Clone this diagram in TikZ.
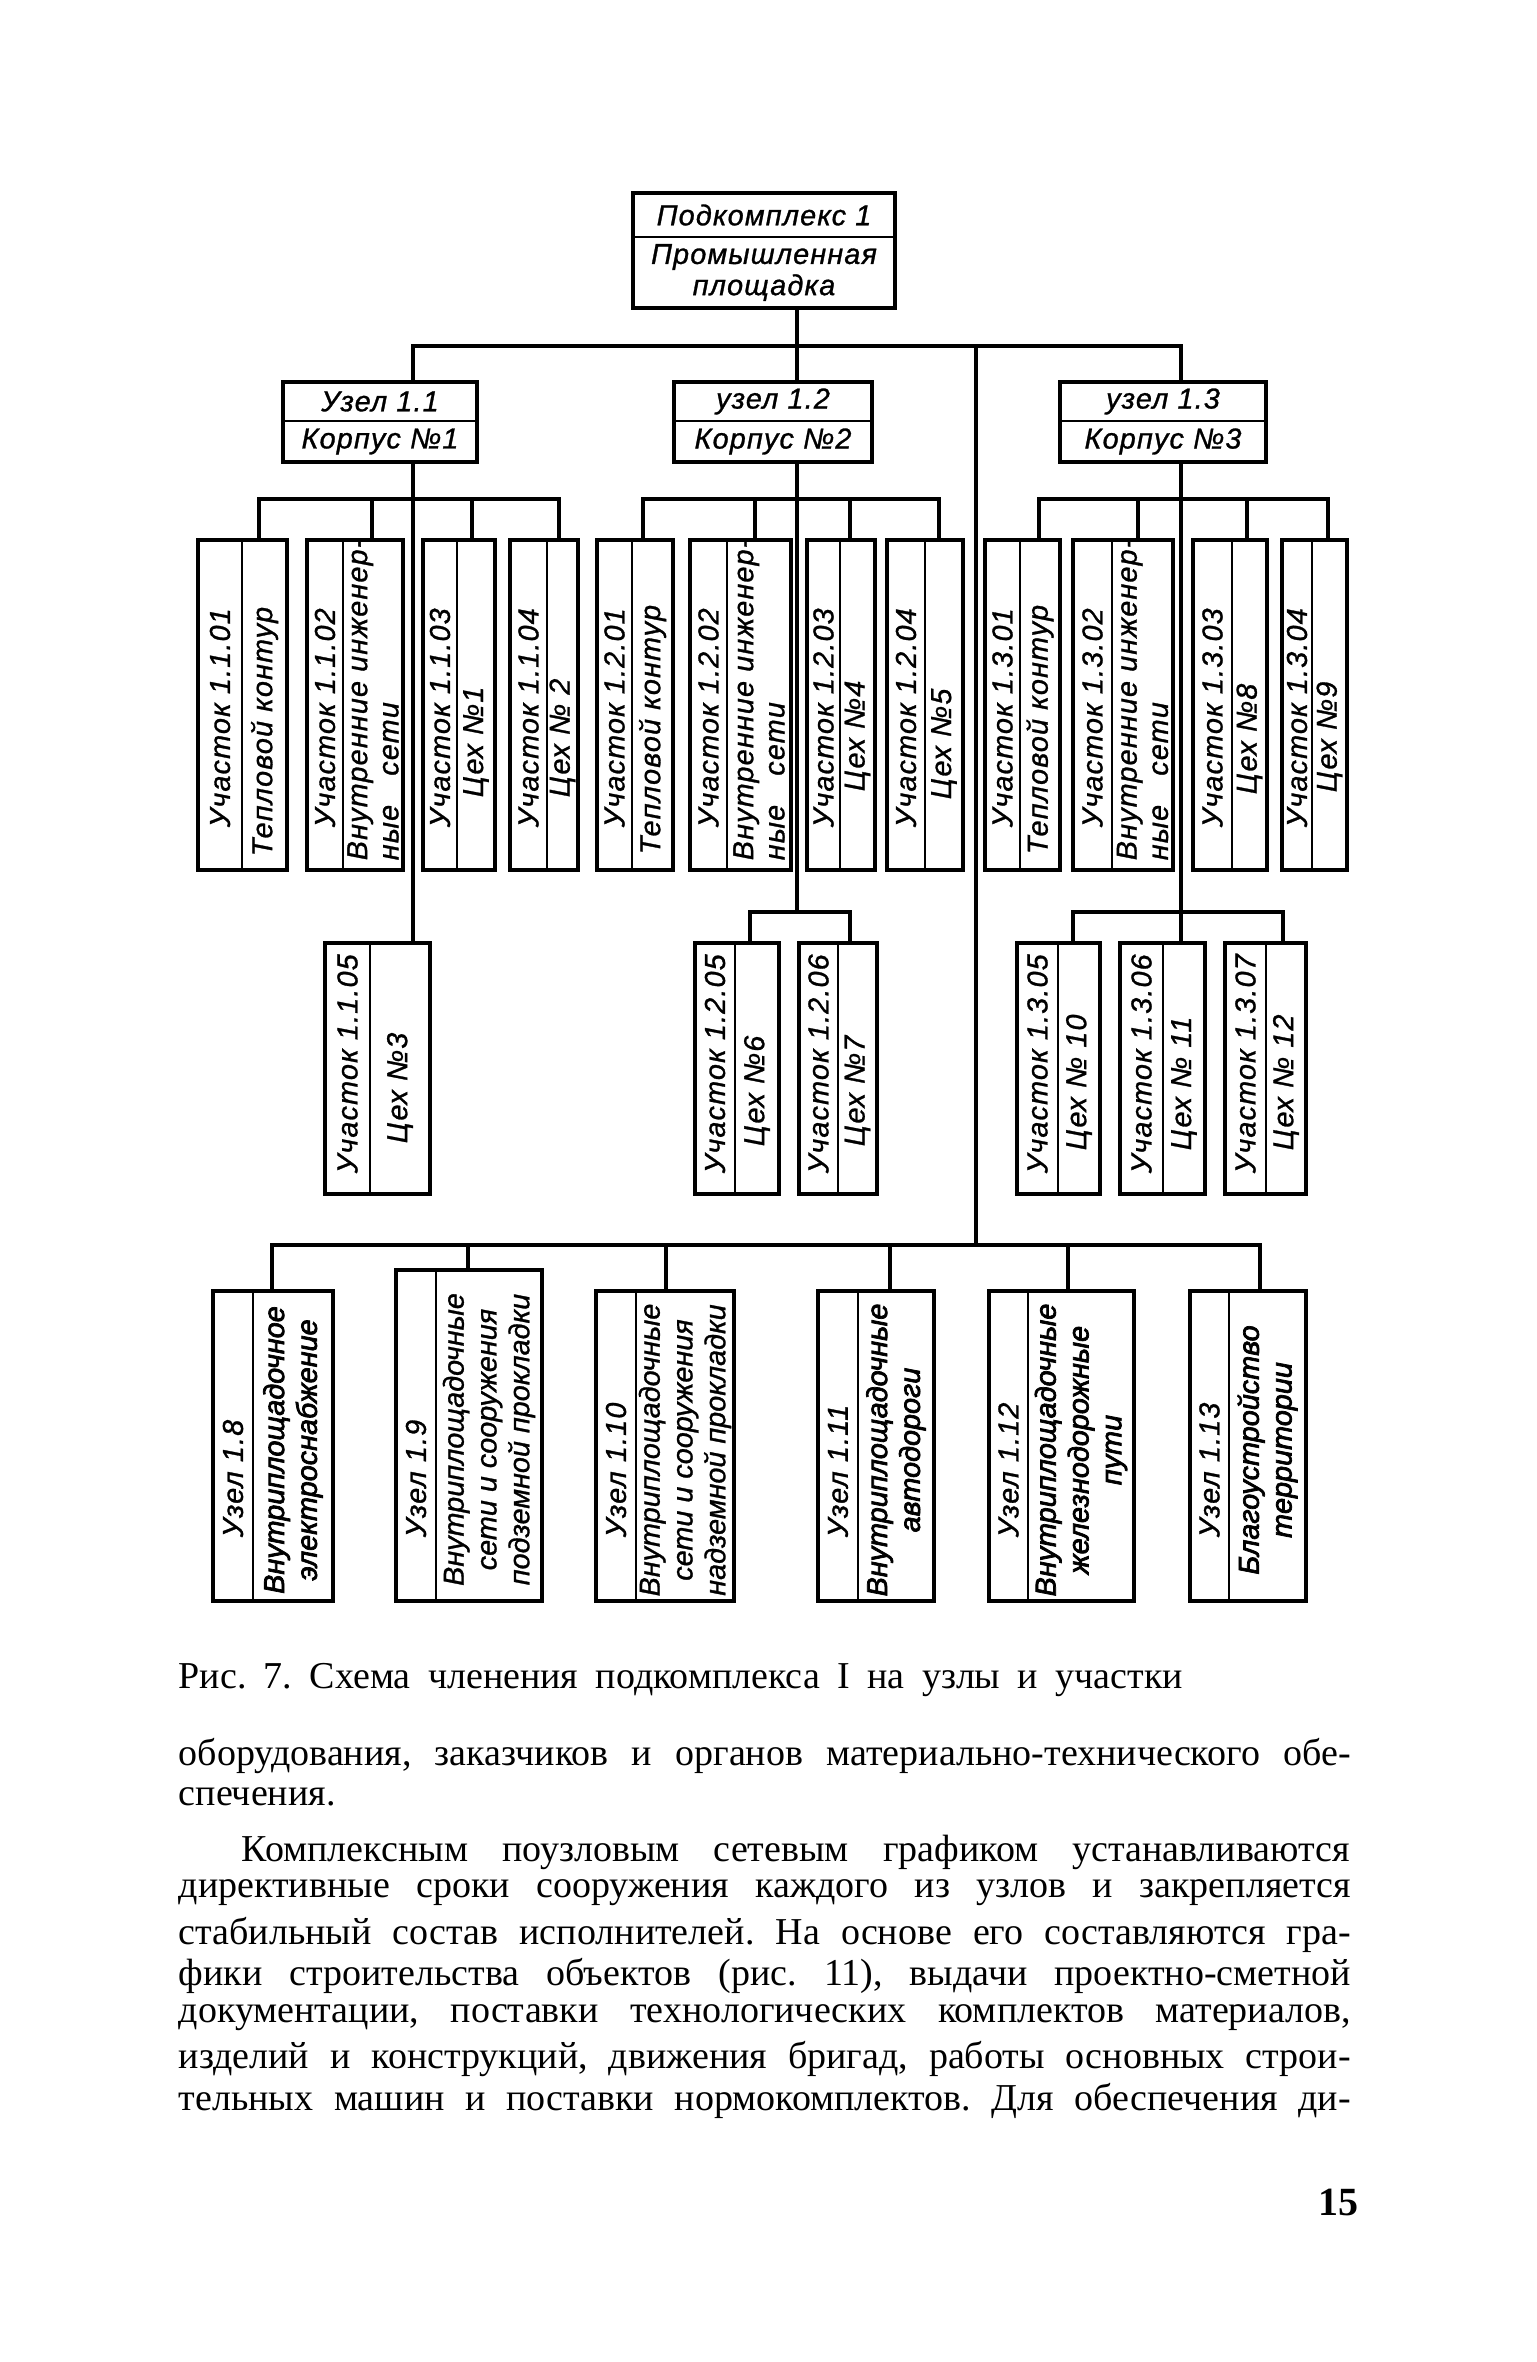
\documentclass[tikz,border=0pt]{standalone}
\usepackage{fontspec}
\setmainfont{Liberation Serif}
\newfontfamily\draftfont[LetterSpace=4, FakeBold=1]{Liberation Sans}
\newfontfamily\draftfontn[FakeBold=1]{Liberation Sans}
\newfontfamily\draftfonth[FakeBold=2.5]{Liberation Sans}
\usetikzlibrary{fit,calc}
\newcommand{\dfont}{\draftfont\itshape\fontsize{7.2}{7.8}\selectfont}
\newcommand{\nfont}{\draftfontn\itshape\fontsize{7.2}{8.2}\selectfont}
\newcommand{\heavy}{\draftfonth\itshape}
% box with two vertical columns: name, x1, xd, x2, drop x, left, right, right pad
\newcommand{\pairbox}[8]{%
  \node[box, fit={(#2,\ytop) (#4,\ybot)}] (#1) {};
  \draw[sep] (#3,\ytop) -- (#3,\ybot);
  \coordinate (#1-in) at (#5,\ytop);
  \node[vtxt] (#1-a) at ({(#2+#3)/2},\ybot-\lpad) {#6};
  \node[vtxt] (#1-b) at ({(#3+#4)/2},\ybot-#8) {#7};
}
% box with two rows: name, x1, x2, y1, yd, y2, upper, lower
\newcommand{\uzel}[8]{%
  \node[box, fit={(#2,#4) (#3,#6)}] (#1) {};
  \draw[sep] (#2,#5) -- (#3,#5);
  \node[htxt] (#1-a) at ({(#2+#3)/2},{(#4+#5)/2}) {#7};
  \node[htxt] (#1-b) at ({(#2+#3)/2},{(#5+#6)/2}) {#8};
}
% bottom row box: name, x1, xd, x2, y1, drop x, left, right
\newcommand{\lowbox}[8]{%
  \node[box, fit={(#2,#5) (#4,\ybot)}] (#1) {};
  \draw[sep] (#3,#5) -- (#3,\ybot);
  \coordinate (#1-in) at (#6,#5);
  \node[vtxt] (#1-a) at ({(#2+#3)/2},\ybot-63) {#7};
  \node[vmid] (#1-b) at ({(#3+#4)/2},{(#5+\ybot)/2+4}) {#8};
}

\begin{document}
\frenchspacing
\begin{tikzpicture}[
  x=0.25pt, y=-0.25pt,
  box/.style={draw, line width=1pt, inner sep=0pt},
  sep/.style={line width=0.7pt},
  wire/.style={line width=0.8pt},
  vtxt/.style={font=\dfont, rotate=90, anchor=west, inner sep=0pt, align=left},
  vmid/.style={font=\nfont, rotate=90, inner sep=0pt, align=center},
  htxt/.style={font=\dfont, inner sep=0pt, align=center},
  body/.style={anchor=west, inner sep=0pt, font=\fontsize{9.5}{11}\selectfont},
]
\fill[white] (0,0) rectangle (1536,2362);
\useasboundingbox (0,0) rectangle (1536,2362);

% stems, spine and buses
\coordinate (k1) at (797,0);
\coordinate (k11) at (413,0);
\coordinate (k13) at (1181,0);
\coordinate (spine) at (976,0);
\coordinate (bus1) at (0,346);
\coordinate (bus2) at (0,499);
\coordinate (bus4) at (0,912);
\coordinate (bus5) at (0,1245);

\uzel{top}{633}{895}{193}{237}{308}{Подкомплекс 1}{Промышленная\\площадка}
\uzel{u11}{283}{477}{382}{421}{462}{Узел 1.1}{Корпус №1}
\uzel{u12}{674}{872}{382}{421}{462}{узел 1.2}{Корпус №2}
\uzel{u13}{1060}{1266}{382}{421}{462}{узел 1.3}{Корпус №3}

% first row of sections
\def\ytop{540}\def\ybot{870}\def\lpad{42}
\pairbox{p1101}{198}{242}{287}{259}{Участок 1.1.01}{Тепловой контур}{13}
\pairbox{p1102}{307}{343}{403}{372}{Участок 1.1.02}{Внутренние инженер-\\ные\hspace{5pt} сети}{9}
\pairbox{p1103}{423}{457}{495}{472}{Участок 1.1.03}{Цех №1}{72}
\pairbox{p1104}{510}{547}{578}{559}{Участок 1.1.04}{Цех № 2}{72}
\pairbox{p1201}{597}{632}{673}{643}{Участок 1.2.01}{Тепловой контур}{15}
\pairbox{p1202}{690}{727}{791}{755}{Участок 1.2.02}{Внутренние инженер-\\ные\hspace{5pt} сети}{9}
\pairbox{p1203}{807}{840}{875}{850}{Участок 1.2.03}{Цех №4}{78}
\pairbox{p1204}{887}{925}{963}{939}{Участок 1.2.04}{Цех №5}{70}
\pairbox{p1301}{985}{1020}{1060}{1039}{Участок 1.3.01}{Тепловой контур}{15}
\pairbox{p1302}{1073}{1112}{1173}{1138}{Участок 1.3.02}{Внутренние инженер-\\ные\hspace{5pt} сети}{9}
\pairbox{p1303}{1193}{1232}{1267}{1247}{Участок 1.3.03}{Цех №8}{75}
\pairbox{p1304}{1282}{1312}{1347}{1328}{Участок 1.3.04}{Цех №9}{77}

% second row of sections
\def\ytop{943}\def\ybot{1194}\def\lpad{20}
\pairbox{p1105}{325}{370}{430}{413}{Участок 1.1.05}{Цех №3}{50}
\pairbox{p1205}{695}{735}{779}{750}{Участок 1.2.05}{Цех №6}{47}
\pairbox{p1206}{799}{838}{877}{850}{Участок 1.2.06}{Цех №7}{47}
\pairbox{p1305}{1017}{1058}{1100}{1073}{Участок 1.3.05}{Цех № 10}{43}
\pairbox{p1306}{1120}{1163}{1205}{1181}{Участок 1.3.06}{Цех № 11}{43}
\pairbox{p1307}{1225}{1266}{1306}{1283}{Участок 1.3.07}{Цех № 12}{43}

% nodes of the site
\def\ybot{1601}
\lowbox{p18}{213}{253}{333}{1291}{272}{Узел 1.8}{\heavy Внутриплощадочное\\\heavy электроснабжение}
\lowbox{p19}{396}{436}{542}{1270}{468}{Узел 1.9}{Внутриплощадочные\\сети и сооружения\\подземной прокладки}
\lowbox{p110}{596}{636}{734}{1291}{666}{Узел 1.10}{Внутриплощадочные\\сети и сооружения\\надземной прокладки}
\lowbox{p111}{818}{858}{934}{1291}{890}{Узел 1.11}{\heavy Внутриплощадочные\\\heavy автодороги}
\lowbox{p112}{989}{1028}{1134}{1291}{1068}{Узел 1.12}{\heavy Внутриплощадочные\\\heavy железнодорожные\\\heavy пути}
\lowbox{p113}{1190}{1229}{1306}{1291}{1260}{Узел 1.13}{\heavy Благоустройство\\\heavy территории}

% top level
\draw[wire] (top.south -| k1) -- (u12.north -| k1);
\draw[wire] (u11.north -| k11) -- (k11 |- bus1) -- (k13 |- bus1) -- (u13.north -| k13);
\draw[wire] (spine |- bus1) -- (spine |- bus5);
% node 1.1
\draw[wire] (u11.south -| k11) -- (p1105.north -| k11);
\draw[wire] (p1101-in) -- (p1101-in |- bus2) -- (p1104-in |- bus2) -- (p1104-in);
\draw[wire] (p1102-in) -- (p1102-in |- bus2);
\draw[wire] (p1103-in) -- (p1103-in |- bus2);
% node 1.2
\draw[wire] (u12.south -| k1) -- (k1 |- bus4);
\draw[wire] (p1201-in) -- (p1201-in |- bus2) -- (p1204-in |- bus2) -- (p1204-in);
\draw[wire] (p1202-in) -- (p1202-in |- bus2);
\draw[wire] (p1203-in) -- (p1203-in |- bus2);
\draw[wire] (p1205-in) -- (p1205-in |- bus4) -- (p1206-in |- bus4) -- (p1206-in);
% node 1.3
\draw[wire] (u13.south -| k13) -- (p1306.north -| k13);
\draw[wire] (p1301-in) -- (p1301-in |- bus2) -- (p1304-in |- bus2) -- (p1304-in);
\draw[wire] (p1302-in) -- (p1302-in |- bus2);
\draw[wire] (p1303-in) -- (p1303-in |- bus2);
\draw[wire] (p1305-in) -- (p1305-in |- bus4) -- (p1307-in |- bus4) -- (p1307-in);
% site nodes
\draw[wire] (p18-in) -- (p18-in |- bus5) -- (p113-in |- bus5) -- (p113-in);
\draw[wire] (p19-in) -- (p19-in |- bus5);
\draw[wire] (p110-in) -- (p110-in |- bus5);
\draw[wire] (p111-in) -- (p111-in |- bus5);
\draw[wire] (p112-in) -- (p112-in |- bus5);

% caption and text of the page
\node[body] (cap) at (178,1680) {\makebox[251pt][s]{Рис. 7. Схема членения подкомплекса I на узлы и участки}};
\node[body] (l1) at (178,1756) {\makebox[293pt][s]{оборудования, заказчиков и органов материально-технического обе-}};
\node[body] (l2) at (178,1797) {спечения.};
\node[body] (l3) at (241,1852) {\makebox[277pt][s]{Комплексным поузловым сетевым графиком устанавливаются}};
\node[body] (l4) at (178,1893) {\makebox[293pt][s]{директивные сроки сооружения каждого из узлов и закрепляется}};
\node[body] (l5) at (178,1935) {\makebox[293pt][s]{стабильный состав исполнителей. На основе его составляются гра-}};
\node[body] (l6) at (178,1976) {\makebox[293pt][s]{фики строительства объектов (рис. 11), выдачи проектно-сметной}};
\node[body] (l7) at (178,2018) {\makebox[293pt][s]{документации, поставки технологических комплектов материалов,}};
\node[body] (l8) at (178,2059) {\makebox[293pt][s]{изделий и конструкций, движения бригад, работы основных строи-}};
\node[body] (l9) at (178,2101) {\makebox[293pt][s]{тельных машин и поставки нормокомплектов. Для обеспечения ди-}};
\node[body, font=\bfseries\fontsize{10}{12}\selectfont] (pnum) at (1318,2202) {15};
\end{tikzpicture}
\end{document}
